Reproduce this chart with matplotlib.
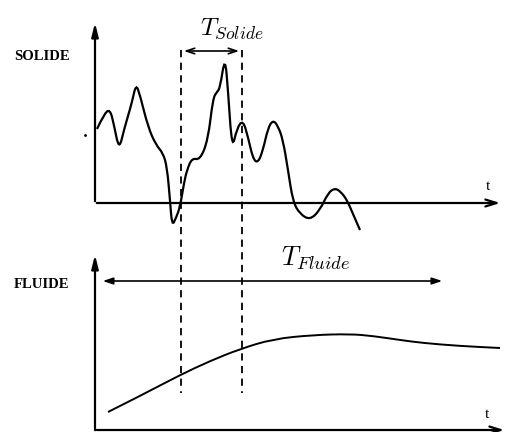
import matplotlib.pyplot as plt
from matplotlib.path import Path
from matplotlib.patches import PathPatch

plt.rcParams['mathtext.fontset'] = 'cm'

# signal "solide" (coordonnées, en pixels)
solid_x = [97, 104, 110, 114, 119, 124, 128, 132, 136, 140, 148, 156, 163, 167,
           170, 172, 176, 180, 184, 187, 192, 200, 208, 213, 217, 220, 225, 228,
           232, 237, 243, 248, 253, 258, 263, 268, 273, 278, 283, 288, 293, 300,
           310, 320, 328, 335, 341, 347, 353, 360]
solid_y = [129, 114, 109, 125, 150, 130, 116, 102, 84, 95, 127, 145, 153, 167,
           200, 226, 218, 207, 183, 170, 158, 160, 140, 98, 92, 88, 56, 90,
           150, 128, 120, 137, 159, 163, 150, 128, 120, 126, 140, 170, 202, 214,
           220, 210, 193, 188, 192, 200, 214, 230]

# signal "fluide"
fluid_x = [108, 140, 180, 210, 240, 273, 313, 350, 373, 400, 423, 460, 500]
fluid_y = [412, 396, 375, 361, 349, 339, 335, 334, 336, 340, 343, 346, 348]

# bornes de T_Solide
t_solid = [181, 242]
# bornes de T_Fluide
t_fluid = [100, 445]


def smooth_path(xs, ys):
    # courbe de Bézier quadratique passant par les milieux
    pts = list(zip(xs, ys))
    verts = [pts[0]]
    codes = [Path.MOVETO]
    for i in range(1, len(pts) - 1):
        mx = (pts[i][0] + pts[i + 1][0]) / 2
        my = (pts[i][1] + pts[i + 1][1]) / 2
        verts += [pts[i], (mx, my)]
        codes += [Path.CURVE3, Path.CURVE3]
    verts.append(pts[-1])
    codes.append(Path.LINETO)
    return Path(verts, codes)


fig = plt.figure(figsize=(5.07, 4.32), dpi=100)
ax = fig.add_axes([0, 0, 1, 1])
ax.set_xlim(0, 507)
ax.set_ylim(432, 0)
ax.axis('off')

k = dict(color='black', lw=1.6)

# axes du haut
ax.annotate('', xy=(95, 20), xytext=(95, 204),
            arrowprops=dict(arrowstyle='-|>,head_length=0.8,head_width=0.2', **k))
ax.annotate('', xy=(503, 203), xytext=(94, 203),
            arrowprops=dict(arrowstyle='->,head_length=0.8,head_width=0.25', **k))
ax.text(488, 187, 't', fontsize=11, family='Liberation Serif', ha='center', va='center')
ax.text(14, 57, 'SOLIDE', fontsize=10.5, family='Liberation Serif', weight='bold', va='center')
ax.plot(85, 135, marker='.', ms=2, color='black')

# axes du bas
ax.annotate('', xy=(95, 252), xytext=(95, 433),
            arrowprops=dict(arrowstyle='-|>,head_length=0.8,head_width=0.2', **k))
ax.annotate('', xy=(507, 430), xytext=(94, 430),
            arrowprops=dict(arrowstyle='->,head_length=0.8,head_width=0.25', **k))
ax.text(487, 414, 't', fontsize=11, family='Liberation Serif', ha='center', va='center')
ax.text(14, 285, 'FLUIDE', fontsize=10.5, family='Liberation Serif', weight='bold', va='center')

# courbes
ax.add_patch(PathPatch(smooth_path(solid_x, solid_y), fill=False, ec='black', lw=1.6))
ax.add_patch(PathPatch(smooth_path(fluid_x, fluid_y), fill=False, ec='black', lw=1.4))

# pointillés
for xv in t_solid:
    ax.plot([xv, xv], [50, 393], color='black', lw=1.3, ls=(0, (4, 3)))

# T_Solide
ax.annotate('', xy=(t_solid[0], 51), xytext=(t_solid[1], 51),
            arrowprops=dict(arrowstyle='<->,head_length=0.6,head_width=0.2', color='black', lw=1.2))
ax.text(232, 29, r'$T_{Solide}$', fontsize=18, ha='center', va='center')

# T_Fluide
ax.annotate('', xy=(t_fluid[0], 281), xytext=(t_fluid[1], 281),
            arrowprops=dict(arrowstyle='<|-|>,head_length=0.6,head_width=0.2',
                            color='black', lw=1.2, facecolor='white'))
ax.text(316, 258, r'$T_{Fluide}$', fontsize=19, ha='center', va='center')

fig.savefig('out.png', dpi=100)
